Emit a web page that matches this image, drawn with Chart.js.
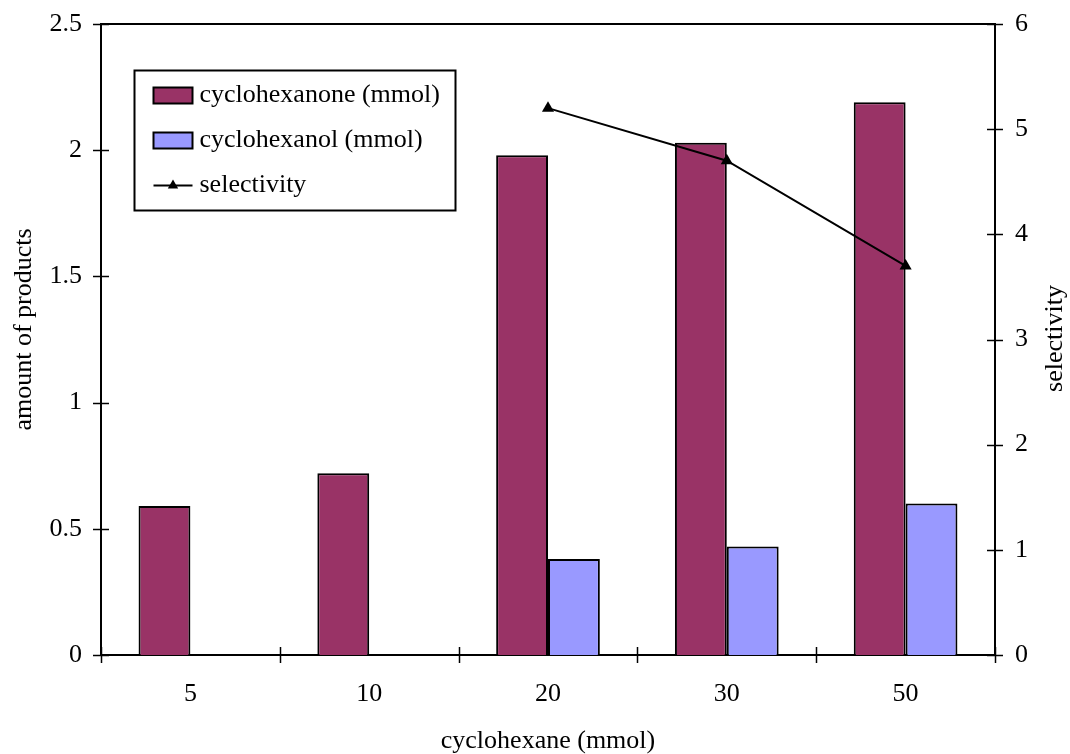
<!DOCTYPE html>
<html>
<head>
<meta charset="utf-8">
<script src="https://cdn.jsdelivr.net/npm/chart.js@4/dist/chart.umd.min.js"></script>
<style>
  html, body { margin: 0; padding: 0; background: #ffffff; }
  canvas { display: block; }
</style>
</head>
<body>
<canvas id="c" width="1070" height="754"></canvas>
<script>
// Cyclohexane amount on the x axis
const categories = ['5', '10', '20', '30', '50'];
// Product amounts (mmol), left axis
const cyclohexanone = [0.59, 0.72, 1.98, 2.03, 2.19];
const cyclohexanol = [null, null, 0.38, 0.43, 0.60];
// Ketone / alcohol selectivity, right axis
const selectivity = [null, null, 5.2, 4.7, 3.7];

const leftTicks = [0, 0.5, 1, 1.5, 2, 2.5];
const rightTicks = [0, 1, 2, 3, 4, 5, 6];

const FONT = 'Liberation Serif, Times New Roman, serif';
const fontSpec = { family: FONT, size: 26 };
const STROKE = 2;

// Tick marks that cross the axis lines, top frame line, y titles and the boxed legend
const framePlugin = {
  id: 'frame',
  afterDatasetsDraw(chart) {
    const { ctx, chartArea: a, scales } = chart;
    ctx.save();
    ctx.strokeStyle = '#000';
    ctx.lineWidth = STROKE;
    const half = 8;

    // top frame line
    ctx.beginPath();
    ctx.moveTo(a.left, a.top);
    ctx.lineTo(a.right, a.top);
    ctx.stroke();

    ctx.lineWidth = 1.5;
    // left axis ticks
    scales.y.ticks.forEach(t => {
      const y = Math.round(scales.y.getPixelForValue(t.value)) + 0.5;
      ctx.beginPath();
      ctx.moveTo(a.left - half, y);
      ctx.lineTo(a.left + half, y);
      ctx.stroke();
    });
    // right axis ticks
    scales.y1.ticks.forEach(t => {
      const y = Math.round(scales.y1.getPixelForValue(t.value)) + 0.5;
      ctx.beginPath();
      ctx.moveTo(a.right - half, y);
      ctx.lineTo(a.right + half, y);
      ctx.stroke();
    });
    // x ticks at category boundaries
    for (let i = 0; i <= categories.length; i++) {
      const x = Math.round(scales.x.getPixelForValue(i - 0.5)) + 0.5;
      ctx.beginPath();
      ctx.moveTo(x, a.bottom - half);
      ctx.lineTo(x, a.bottom + half);
      ctx.stroke();
    }

    // vertical axis titles (both read bottom to top)
    ctx.fillStyle = '#000';
    ctx.font = '26px ' + FONT;
    ctx.textAlign = 'center';
    ctx.textBaseline = 'middle';
    ctx.save();
    ctx.translate(24, (a.top + a.bottom) / 2 - 10);
    ctx.rotate(-Math.PI / 2);
    ctx.fillText('amount of products', 0, 0);
    ctx.restore();
    ctx.save();
    ctx.translate(a.right + 60, (a.top + a.bottom) / 2 - 1);
    ctx.rotate(-Math.PI / 2);
    ctx.fillText('selectivity', 0, 0);
    ctx.restore();

    // legend box
    ctx.lineWidth = STROKE;
    const bx = a.left + 33.5, by = a.top + 46.5, bw = 321, bh = 140;
    ctx.fillStyle = '#fff';
    ctx.fillRect(bx, by, bw, bh);
    ctx.strokeRect(bx, by, bw, bh);
    const rowGap = 45;
    chart.data.datasets.forEach((ds, i) => {
      const cy = by + 25 + i * rowGap;
      const sx = bx + 19;
      if (ds.type === 'line') {
        ctx.beginPath();
        ctx.moveTo(sx, cy);
        ctx.lineTo(sx + 39, cy);
        ctx.stroke();
        const cx = sx + 19.5, r = 6;
        ctx.beginPath();
        ctx.moveTo(cx, cy - r);
        ctx.lineTo(cx + r * 0.866, cy + r * 0.5);
        ctx.lineTo(cx - r * 0.866, cy + r * 0.5);
        ctx.closePath();
        ctx.fillStyle = '#000';
        ctx.fill();
      } else {
        ctx.fillStyle = ds.backgroundColor;
        ctx.fillRect(sx, cy - 8, 39, 16);
        ctx.strokeRect(sx, cy - 8, 39, 16);
      }
      ctx.fillStyle = '#000';
      ctx.textAlign = 'left';
      ctx.textBaseline = 'middle';
      ctx.fillText(ds.label, bx + 65, cy);
    });
    ctx.restore();
  }
};

// keep the plot area edges fixed: no extra room for overhanging tick labels
function noOverhang(s) {
  s.paddingTop = 0;
  s.paddingBottom = 0;
  s.paddingLeft = 0;
  s.paddingRight = 0;
}

new Chart(document.getElementById('c'), {
  data: {
    labels: categories,
    datasets: [
      {
        type: 'bar',
        label: 'cyclohexanone (mmol)',
        data: cyclohexanone,
        backgroundColor: '#993366',
        borderColor: '#000',
        borderWidth: STROKE,
        yAxisID: 'y',
        order: 2
      },
      {
        type: 'bar',
        label: 'cyclohexanol (mmol)',
        data: cyclohexanol,
        backgroundColor: '#9999ff',
        borderColor: '#000',
        borderWidth: STROKE,
        yAxisID: 'y',
        order: 2
      },
      {
        type: 'line',
        label: 'selectivity',
        data: selectivity,
        borderColor: '#000',
        borderWidth: STROKE,
        backgroundColor: '#000',
        pointStyle: 'triangle',
        pointRadius: 7,
        pointBackgroundColor: '#000',
        pointBorderColor: '#000',
        pointBorderWidth: 0,
        fill: false,
        tension: 0,
        yAxisID: 'y1',
        order: 1
      }
    ]
  },
  options: {
    responsive: false,
    animation: false,
    devicePixelRatio: 1,
    layout: { padding: { top: 24, left: 0, right: 0, bottom: 0 } },
    datasets: {
      bar: { categoryPercentage: 0.58, barPercentage: 1.0 }
    },
    plugins: {
      legend: { display: false },
      tooltip: { enabled: false }
    },
    scales: {
      x: {
        type: 'category',
        offset: true,
        grid: { display: false, drawTicks: false, offset: true },
        border: { display: true, color: '#000', width: STROKE },
        ticks: { color: '#000', font: fontSpec, padding: 24, maxRotation: 0 },
        title: {
          display: true,
          text: 'cyclohexane (mmol)',
          color: '#000',
          font: { family: FONT, size: 26, lineHeight: 1.0 },
          padding: { top: 0, bottom: 0 }
        },
        afterFit(s) { s.height = 99; noOverhang(s); }
      },
      y: {
        position: 'left',
        min: 0,
        max: 2.5,
        afterBuildTicks(s) { s.ticks = leftTicks.map(v => ({ value: v })); },
        grid: { display: false, drawTicks: false },
        border: { display: true, color: '#000', width: STROKE },
        ticks: { color: '#000', font: fontSpec, padding: 19, callback: v => String(v) },
        afterFit(s) { s.width = 101; noOverhang(s); }
      },
      y1: {
        position: 'right',
        min: 0,
        max: 6,
        afterBuildTicks(s) { s.ticks = rightTicks.map(v => ({ value: v })); },
        grid: { display: false, drawTicks: false },
        border: { display: true, color: '#000', width: STROKE },
        ticks: { color: '#000', font: fontSpec, padding: 20, callback: v => String(v) },
        afterFit(s) { s.width = 75; noOverhang(s); }
      }
    }
  },
  plugins: [framePlugin]
});
</script>
</body>
</html>
